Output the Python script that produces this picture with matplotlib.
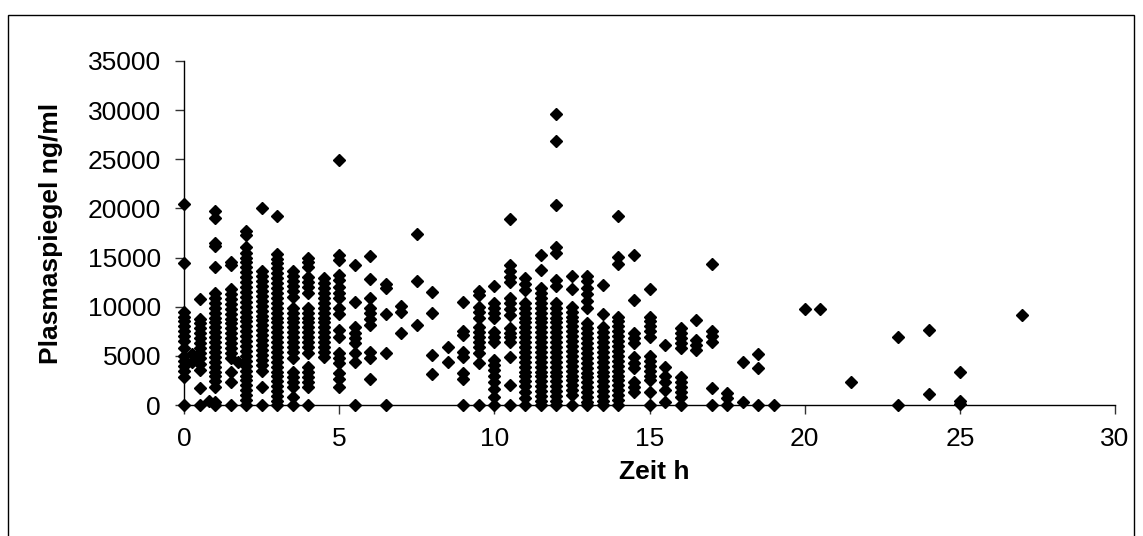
import matplotlib.pyplot as plt
from matplotlib.patches import Rectangle

plt.rcParams["font.family"] = ["Liberation Sans", "DejaVu Sans"]

# Sampling times (h) and measured plasma levels (ng/ml) per time
times = [0, 0.25, 0.5, 0.8, 1, 1.5, 1.75, 2, 2.5, 3, 3.5, 4, 4.5, 5, 5.5, 6, 6.5, 7, 7.5, 8, 8.5,
         9, 9.5, 10, 10.5, 11, 11.5, 12, 12.5, 13, 13.5, 14, 14.5,
         15, 15.5, 16, 16.5, 17, 17.5, 18, 18.5, 19, 20, 20.5, 21.5, 23, 24, 25, 27]

levels = [
    [20400, 14400, 9500, 9000, 8500, 8000, 7500, 7000, 6500, 5800, 5000, 4500, 4000, 3500, 2800, 0],
    [4400, 5200],
    [10800, 8800, 8300, 7800, 7300, 6800, 6300, 5800, 5300, 4800, 4200, 3600, 1700, 0],
    [400],
    [19700, 19000, 16500, 16200, 14000, 11400, 10900, 10400, 9900, 9400, 8900, 8400, 7900, 7400,
     6900, 6400, 5900, 5400, 4900, 4400, 3900, 3400, 2900, 2400, 1800, 300, 0],
    [14500, 14200, 11800, 11300, 10800, 10300, 9800, 9300, 8800, 8300, 7800, 7300, 6800, 6300,
     5800, 5300, 4800, 3400, 2300, 0],
    [4400],
    [17700, 17300, 16100, 15500, 15000, 14500, 14000, 13500, 13000, 12500, 12000, 11500, 11000,
     10500, 10000, 9500, 9000, 8500, 8000, 7500, 7000, 6500, 6000, 5500, 5000, 4500, 4000, 3500,
     3000, 2500, 2000, 1500, 1000, 500, 0],
    [20000, 13600, 13100, 12600, 12100, 11600, 11100, 10600, 10100, 9600, 9100, 8600, 8100, 7600,
     7100, 6600, 6100, 5600, 5100, 4600, 4100, 3500, 1800, 0],
    [19200, 15400, 14900, 14400, 13900, 13400, 12900, 12400, 11900, 11400, 10900, 10400, 9900,
     9400, 8900, 8400, 7900, 7400, 6900, 6400, 5900, 5400, 4900, 4400, 3900, 3400, 2900, 2400,
     1900, 1400, 900, 400, 0],
    [13600, 13100, 12600, 12100, 11600, 11000, 9900, 9400, 8900, 8400, 7900, 7400, 6900, 6400,
     5900, 5400, 4800, 3400, 2800, 2300, 1800, 800, 0],
    [15000, 14500, 14000, 13000, 12500, 12000, 11400, 9900, 9400, 8900, 8400, 7900, 7400, 6900,
     6400, 5900, 5300, 3900, 3400, 2800, 2300, 1800, 0],
    [12900, 12400, 11900, 11400, 10900, 10400, 9900, 9400, 8900, 8400, 7900, 7400, 6900, 6400,
     5900, 5400, 4900],
    [24900, 15300, 14800, 13200, 12700, 12000, 11400, 10900, 9900, 9300, 7600, 6900, 5300, 4800,
     4300, 3300, 2600, 1800],
    [14200, 10500, 7900, 7300, 6800, 6300, 5300, 4400, 0],
    [15200, 12800, 10900, 9900, 9400, 8800, 8100, 5400, 4800, 2600],
    [12300, 11900, 9300, 5300, 0],
    [10100, 9500, 7300],
    [17400, 12600, 8100],
    [11500, 9400, 5100, 3200],
    [5900, 4400],
    [10500, 7500, 7100, 5400, 4900, 3300, 2600, 0],
    [11600, 11200, 10000, 9500, 8900, 7900, 7400, 6900, 6400, 5900, 5300, 4300, 0],
    [12100, 10400, 9900, 9400, 8900, 7400, 6900, 6400, 4600, 4100, 3600, 3000, 2300, 1600, 800, 0],
    [18900, 14200, 13600, 13000, 12500, 10900, 10400, 9800, 9200, 7800, 7300, 6900, 6400, 4900,
     2000, 0],
    [12900, 12300, 11700, 10400, 9900, 9400, 8900, 8400, 7900, 7400, 6900, 6400, 5900, 5400, 4900,
     4400, 3900, 3400, 2900, 2400, 1900, 1300, 700, 0],
    [15300, 13700, 11900, 11400, 10900, 10400, 9900, 9400, 8900, 8400, 7900, 7400, 6900, 6400,
     5900, 5400, 4900, 4400, 3900, 3400, 2900, 2400, 1900, 1400, 900, 400, 0],
    [29600, 26900, 20300, 16100, 15500, 12700, 12100, 10400, 9900, 9400, 8900, 8400, 7900, 7400,
     6900, 6400, 5900, 5400, 4900, 4400, 3900, 3400, 2900, 2400, 1900, 1400, 900, 400, 0],
    [13100, 11800, 10000, 9500, 9000, 8500, 8000, 7500, 7000, 6500, 6000, 5500, 5000, 4500, 4000,
     3500, 3000, 2500, 2000, 1500, 1000, 0],
    [13100, 12600, 11900, 11300, 10600, 9900, 8300, 7800, 7300, 6800, 6300, 5800, 5300, 4800,
     4300, 3800, 3300, 2800, 2300, 1800, 1300, 800, 300, 0],
    [12200, 9300, 7900, 7400, 6900, 6400, 5900, 5400, 4900, 4400, 3900, 3400, 2900, 2400, 1900,
     1400, 900, 400, 0],
    [19200, 15100, 14300, 9000, 8500, 8000, 7500, 7000, 6500, 6000, 5500, 5000, 4500, 4000, 3500,
     3000, 2500, 2000, 1500, 1000, 500, 0],
    [15300, 10700, 7300, 6800, 6300, 4900, 4300, 3800, 2300, 1800, 1300],
    [11800, 9000, 8500, 8000, 7500, 6900, 5000, 4500, 4000, 3500, 3000, 2500, 1300, 0],
    [6100, 3900, 2900, 2300, 1500, 300],
    [7800, 7300, 6800, 6300, 5800, 2800, 2300, 1800, 1300, 800, 0],
    [8600, 6600, 6100, 5600],
    [14300, 7500, 7000, 6400, 1700, 0],
    [1200, 700, 0],
    [4400, 300],
    [5200, 3800, 0],
    [0],
    [9800],
    [9800],
    [2300],
    [6900, 0],
    [7600, 1100],
    [3400, 400, 100],
    [9200],
]

x_ticks = [0, 5, 10, 15, 20, 25, 30]
y_ticks = [0, 5000, 10000, 15000, 20000, 25000, 30000, 35000]

xs = [t for t, vals in zip(times, levels) for _ in vals]
ys = [v for vals in levels for v in vals]

fig = plt.figure(figsize=(11.43, 5.36), dpi=100)
ax = fig.add_axes([0.161, 0.2444, 0.8145, 0.6418])

ax.plot(xs, ys, linestyle="none", marker="D", markersize=5.8, color="black",
        clip_on=False, zorder=5)

ax.set_xlim(0, 30)
ax.set_ylim(0, 35000)
ax.set_xticks(x_ticks)
ax.set_yticks(y_ticks)
ax.tick_params(direction="out", length=6.5, width=1, labelsize=19, color="#333333")
ax.tick_params(axis="x", pad=9)
ax.tick_params(axis="y", pad=10)
for side in ("top", "right"):
    ax.spines[side].set_visible(False)
for side in ("left", "bottom"):
    ax.spines[side].set_linewidth(1)

ax.set_xlabel("Zeit h", fontsize=19, fontweight="bold")
ax.set_ylabel("Plasmaspiegel ng/ml", fontsize=19, fontweight="bold")
ax.xaxis.set_label_coords(0.505, -0.16)
ax.yaxis.set_label_coords(-0.130, 0.5)

# outer chart frame
fig.patches.append(Rectangle((8 / 1143, -0.01), 1126 / 1143, 1 - 15 / 536 + 0.01,
                             transform=fig.transFigure, fill=False,
                             edgecolor="black", linewidth=1))

fig.savefig("out.png", dpi=100)
